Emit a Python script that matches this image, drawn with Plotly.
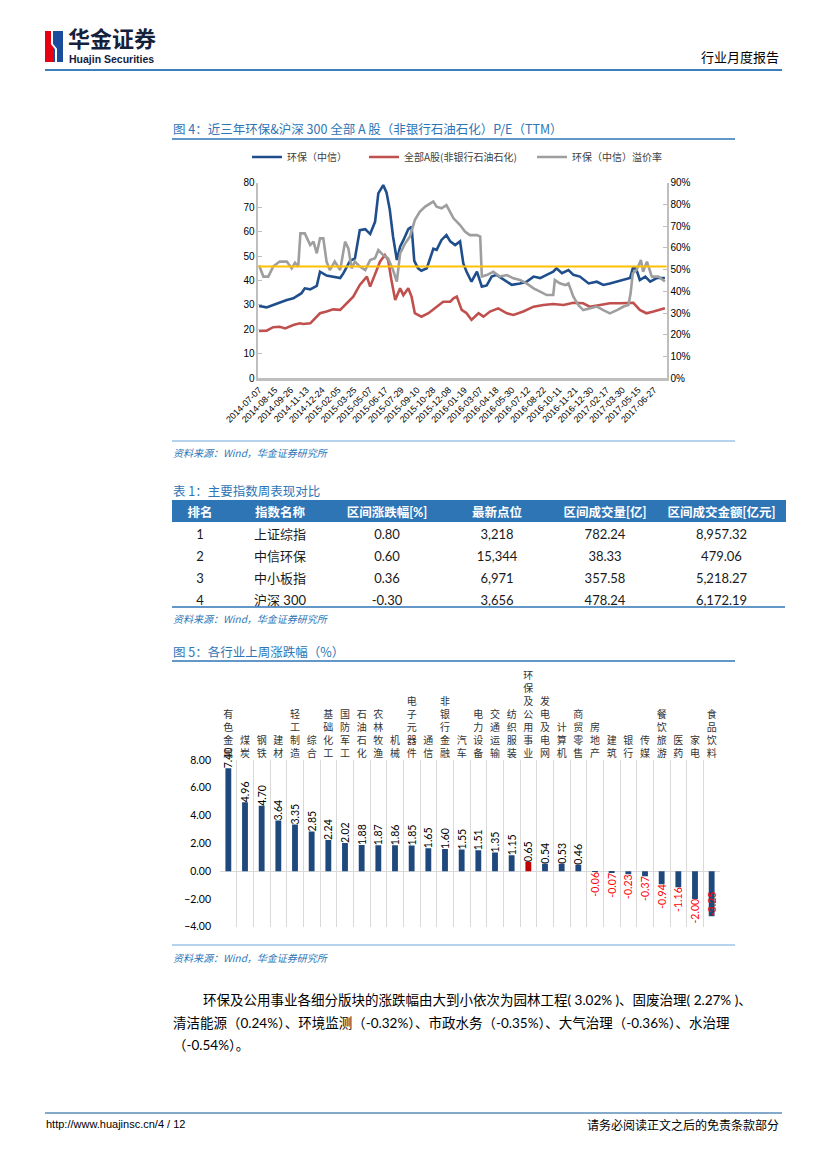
import plotly.graph_objects as go

# page is drawn 8px in from the top-left corner of the window (body margin)
OX, OY = 8, 8
W, H = 819, 1161
def px(x): return (x - OX) / W
def py(y): return 1 - (y - OY) / H

CJK = "Noto Sans CJK SC"
ARIAL = "Liberation Sans, Noto Sans CJK SC"
CAL = "Lato, Noto Sans CJK SC"

# ---------------- Figure 4 data (trading-day index, values) ----------------
date_ticks = ['2014-07-07', '2014-08-15', '2014-09-26', '2014-11-13', '2014-12-24',
              '2015-02-05', '2015-03-25', '2015-05-07', '2015-06-17', '2015-07-29',
              '2015-09-10', '2015-10-28', '2015-12-08', '2016-01-19', '2016-03-07',
              '2016-04-18', '2016-05-30', '2016-07-12', '2016-08-22', '2016-10-11',
              '2016-11-21', '2016-12-30', '2017-02-17', '2017-03-30', '2017-05-15',
              '2017-06-27']
tick_days = [0, 29, 58, 87, 116, 145, 174, 203, 232, 261, 290, 319, 348, 377, 406,
             435, 464, 493, 522, 551, 580, 609, 638, 667, 696, 725]

hb_day = [0, 14, 26, 38, 51, 63, 78, 84, 94, 106, 112, 124, 136, 149, 155, 167, 176, 185,
          195, 204, 213, 219, 228, 234, 240, 246, 253, 259, 265, 274, 280, 285, 292, 298,
          308, 314, 320, 326, 335, 344, 351, 360, 369, 375, 381, 390, 400, 409, 418, 427,
          436, 445, 455, 464, 479, 491, 504, 516, 528, 540, 546, 556, 568, 577, 589, 605,
          620, 632, 644, 657, 669, 681, 687, 693, 699, 709, 718, 730, 745]
hb_pe = [29.6, 29.0, 30.0, 31.0, 32.0, 32.7, 34.8, 36.8, 36.4, 37.8, 43.6, 42.0, 41.5, 41.0,
         43.0, 48.0, 49.0, 60.6, 61.0, 59.0, 64.0, 75.6, 79.0, 76.0, 69.0, 58.0, 48.4, 53.8,
         56.5, 61.0, 62.0, 48.0, 45.0, 44.0, 45.0, 49.0, 53.0, 52.5, 56.6, 58.6, 56.0, 54.5,
         56.0, 47.0, 43.6, 39.5, 43.6, 37.5, 38.0, 41.6, 42.3, 41.0, 39.5, 38.2, 38.8, 39.5,
         41.6, 41.0, 42.3, 43.6, 45.0, 43.0, 44.3, 42.3, 41.6, 38.8, 39.5, 38.2, 38.8, 39.5,
         40.2, 41.0, 45.7, 44.3, 40.2, 41.6, 39.5, 41.0, 41.0]

a_day = [0, 14, 26, 38, 48, 63, 75, 81, 94, 100, 112, 124, 136, 149, 161, 173, 185, 198,
         204, 213, 222, 231, 237, 243, 250, 259, 265, 274, 280, 286, 298, 311, 326, 338,
         351, 357, 363, 372, 381, 390, 403, 412, 424, 439, 455, 467, 485, 504, 522, 540,
         559, 577, 595, 607, 626, 644, 663, 687, 699, 711, 724, 745]
a_pe = [19.4, 19.5, 20.9, 21.1, 20.4, 21.8, 22.5, 22.2, 22.5, 23.9, 26.6, 27.3, 28.2, 28.0,
        30.7, 33.4, 38.2, 41.6, 37.5, 43.0, 47.7, 50.4, 48.4, 40.2, 32.0, 36.8, 34.0, 36.8,
        33.4, 26.6, 25.2, 26.6, 29.3, 31.3, 31.3, 32.7, 33.4, 28.0, 26.6, 23.9, 26.6, 25.2,
        27.3, 28.6, 26.6, 25.9, 27.3, 29.3, 30.0, 30.4, 30.0, 30.9, 30.7, 29.3, 30.0, 30.7,
        30.7, 30.9, 28.0, 26.6, 27.3, 28.6]

prem_day = [0, 8, 17, 26, 38, 51, 60, 66, 72, 76, 84, 94, 100, 106, 112, 118, 124, 130, 139,
            149, 158, 164, 170, 176, 185, 195, 204, 213, 219, 228, 237, 246, 253, 259, 268,
            277, 286, 295, 305, 314, 320, 326, 335, 344, 357, 369, 378, 387, 400, 406, 409,
            418, 430, 442, 455, 467, 479, 491, 504, 516, 528, 540, 543, 552, 562, 568, 577,
            586, 595, 608, 620, 632, 644, 657, 669, 678, 682, 686, 693, 701, 705, 712, 721,
            733, 745]
prem_pct = [52.0, 46.8, 46.8, 51.4, 53.7, 53.7, 50.6, 53.2, 51.4, 66.7, 66.7, 61.3, 62.9,
            57.5, 64.4, 64.4, 53.7, 49.8, 53.7, 49.8, 62.9, 59.8, 50.6, 53.7, 51.4, 49.8,
            54.4, 55.2, 59.0, 56.7, 55.2, 49.8, 44.5, 57.5, 62.0, 65.2, 72.8, 76.6, 79.0,
            80.5, 81.3, 79.0, 78.2, 79.7, 73.6, 70.5, 67.5, 65.9, 65.9, 65.2, 46.8, 47.5,
            49.0, 46.8, 47.5, 46.0, 45.2, 43.7, 41.4, 39.9, 38.3, 38.3, 45.2, 43.7, 42.9,
            43.7, 37.6, 33.7, 31.4, 32.2, 33.0, 31.4, 29.9, 31.4, 33.0, 33.7, 39.0, 48.3,
            49.8, 54.4, 49.0, 53.7, 46.8, 46.8, 44.5]
prem_avg = 51.4

# ---------------- Table 1 data ----------------
tbl_header = ['排名', '指数名称', '区间涨跌幅[%]', '最新点位', '区间成交量[亿]', '区间成交金额[亿元]']
tbl_rank = ['1', '2', '3', '4']
tbl_name = ['上证综指', '中信环保', '中小板指', '沪深 300']
tbl_chg = ['0.80', '0.60', '0.36', '-0.30']
tbl_last = ['3,218', '15,344', '6,971', '3,656']
tbl_vol = ['782.24', '38.33', '357.58', '478.24']
tbl_amt = ['8,957.32', '479.06', '5,218.27', '6,172.19']

# ---------------- Figure 5 data ----------------
industries = ['有色金属', '煤炭', '钢铁', '建材', '轻工制造', '综合', '基础化工', '国防军工',
              '石油石化', '农林牧渔', '机械', '电子元器件', '通信', '非银行金融', '汽车',
              '电力设备', '交通运输', '纺织服装', '环保及公用事业', '发电及电网', '计算机',
              '商贸零售', '房地产', '建筑', '银行', '传媒', '餐饮旅游', '医药', '家电', '食品饮料']
changes = [7.40, 4.96, 4.70, 3.64, 3.35, 2.85, 2.24, 2.02, 1.88, 1.87, 1.86, 1.85, 1.65,
           1.60, 1.55, 1.51, 1.35, 1.15, 0.65, 0.54, 0.53, 0.46, -0.06, -0.07, -0.23,
           -0.37, -0.94, -1.16, -2.00, -3.25]
highlight = '环保及公用事业'

fig = go.Figure()

# ---- Figure 4 traces ----
fig.add_trace(go.Scatter(x=hb_day, y=hb_pe, mode='lines', name='环保（中信）',
                         line=dict(color='#1F4E8C', width=2.6), xaxis='x', yaxis='y',
                         legend='legend'))
fig.add_trace(go.Scatter(x=a_day, y=a_pe, mode='lines', name='全部A股(非银行石油石化)',
                         line=dict(color='#C0504D', width=2.6), xaxis='x', yaxis='y',
                         legend='legend2'))
fig.add_trace(go.Scatter(x=prem_day, y=prem_pct, mode='lines', name='环保（中信）溢价率',
                         line=dict(color='#9E9E9E', width=2.6), xaxis='x', yaxis='y2',
                         legend='legend3'))
fig.add_trace(go.Scatter(x=[prem_day[0] - 2, prem_day[-1] + 4], y=[prem_avg, prem_avg],
                         mode='lines', showlegend=False,
                         line=dict(color='#FFC000', width=2), xaxis='x', yaxis='y2'))

# ---- Figure 5 bars ----
bar_colors = ['#C00000' if n == highlight else '#1F497D' for n in industries]
txt_colors = ['#000000' if v >= 0 else '#FF0000' for v in changes]
txt_pos = ['inside' if v < -3 else 'outside' for v in changes]
fig.add_trace(go.Bar(x=industries, y=changes, marker=dict(color=bar_colors, line=dict(width=0)),
                     text=[f'{v:.2f}' for v in changes], textposition=txt_pos,
                     insidetextanchor='end',
                     textangle=-90, constraintext='none', cliponaxis=False,
                     textfont=dict(family=CAL, size=10.5, color=txt_colors),
                     showlegend=False, xaxis='x2', yaxis='y3'))

# ---- Table 1 ----
fig.add_trace(go.Table(
    domain=dict(x=[px(172), px(785)], y=[py(660), py(500)]),
    columnwidth=[56, 104, 110, 110, 106, 127],
    header=dict(values=tbl_header, fill_color='#2E75B6',
                line=dict(color='#2E75B6', width=1), align='center', height=21,
                font=dict(family=CAL, size=12.5, color='white', weight='bold')),
    cells=dict(values=[tbl_rank, tbl_name, tbl_chg, tbl_last, tbl_vol, tbl_amt],
               fill_color='white', line=dict(color='white', width=1), align='center',
               height=22, font=dict(family=CAL, size=13, color='#1a1a1a'))))

axis_grey = '#BFBFBF'
legend_common = dict(orientation='h', xanchor='left', yanchor='middle',
                     font=dict(family=CJK, size=10, color='#404040'),
                     bgcolor='rgba(0,0,0,0)', borderwidth=0, itemwidth=30)

fig.update_layout(
    width=W, height=H, autosize=False,
    margin=dict(l=0, r=0, t=0, b=0, autoexpand=False),
    paper_bgcolor='white', plot_bgcolor='rgba(0,0,0,0)',
    font=dict(family=CJK, color='#000000'),
    legend=dict(x=px(247), y=py(157), **legend_common),
    legend2=dict(x=px(364), y=py(157), **legend_common),
    legend3=dict(x=px(532), y=py(157), **legend_common),
    xaxis=dict(domain=[px(258.3), px(666.7)], range=[-1.3, 748.3], anchor='y',
               automargin=False,
               tickmode='array', tickvals=tick_days, ticktext=date_ticks, tickangle=-45,
               tickfont=dict(family=ARIAL, size=9, color='#000000'),
               showline=True, linecolor=axis_grey, linewidth=3, showgrid=False,
               zeroline=False, ticks=''),
    yaxis=dict(domain=[py(378.3), py(182.7)], range=[0, 80], dtick=10, anchor='x',
               automargin=False,
               showline=True, linecolor=axis_grey, linewidth=1.5, ticks='inside',
               ticklen=4, tickcolor=axis_grey, showgrid=False, zeroline=False,
               tickfont=dict(family=ARIAL, size=10, color='#000000')),
    yaxis2=dict(range=[0, 90], dtick=10, ticksuffix='%', overlaying='y', side='right',
                anchor='x', automargin=False, showline=True, linecolor=axis_grey,
                linewidth=1.5, ticks='inside', ticklen=4, tickcolor=axis_grey,
                showgrid=False, zeroline=False,
                tickfont=dict(family=ARIAL, size=10, color='#000000')),
    xaxis2=dict(domain=[px(220), px(720)], anchor='y3', side='top', type='category',
                automargin=False,
                tickmode='array', tickvals=industries,
                ticktext=['<br>'.join(list(n)) for n in industries],
                tickson='boundaries', showgrid=True, gridcolor='#D9D9D9', gridwidth=1,
                ticks='', tickangle=0, showline=False, zeroline=False,
                tickfont=dict(family=CJK, size=10, color='#333333')),
    yaxis3=dict(domain=[py(926.7), py(760)], range=[-4, 8], dtick=2, tickformat='.2f',
                anchor='x2', automargin=False, showgrid=False, zeroline=True,
                zerolinecolor='#D9D9D9', zerolinewidth=1, showline=False, ticks='',
                ticklabelstandoff=8,
                tickfont=dict(family=CAL, size=10.5, color='#000000')),
    bargap=0.65,
)

shapes = []
def hline(y, x0, x1, color, width):
    shapes.append(dict(type='line', xref='paper', yref='paper', x0=px(x0), x1=px(x1),
                       y0=py(y), y1=py(y), line=dict(color=color, width=width)))

hline(70, 45, 782, '#3D7EBF', 2)
hline(139, 172, 735, '#2E75B6', 1.5)
hline(441, 172, 735, '#6FA8DC', 1.2)
hline(607, 172, 785, '#2E75B6', 1.5)
hline(661, 172, 735, '#2E75B6', 1.5)
hline(945, 172, 735, '#6FA8DC', 1.2)
hline(1113, 45, 782, '#5B8DB8', 1.5)

# logo
shapes.append(dict(type='rect', xref='paper', yref='paper', x0=px(45), x1=px(54),
                   y0=py(62), y1=py(31), fillcolor='#E60012', line=dict(width=0)))
shapes.append(dict(type='rect', xref='paper', yref='paper', x0=px(54), x1=px(63),
                   y0=py(62), y1=py(31), fillcolor='#1B4C9C', line=dict(width=0)))
shapes.append(dict(type='path', xref='paper', yref='paper',
                   path=f'M {px(52)},{py(31)} L {px(52)},{py(44)} L {px(56)},{py(49)} L {px(56)},{py(62)}',
                   line=dict(color='white', width=2)))
fig.update_layout(shapes=shapes)

ann = []
def text(x, y, s, size, color='#000000', anchor='left', family=CJK, **kw):
    ann.append(dict(xref='paper', yref='paper', x=px(x), y=py(y), text=s, showarrow=False,
                    xanchor=anchor, yanchor='middle', font=dict(family=family, size=size,
                                                                color=color), **kw))

text(66, 37, '<b>华金证券</b>', 22, '#14213D')
text(67, 59, '<b>Huajin Securities</b>', 10.5, '#14213D', family=ARIAL)
text(781, 57, '行业月度报告', 13, '#000000', anchor='right')

title_blue = '#2E75B6'
text(171, 128, '图 4：近三年环保&沪深 300 全部 A 股（非银行石油石化）P/E（TTM）', 12.5, title_blue)
text(171, 452, '<i>资料来源：Wind，华金证券研究所</i>', 10, title_blue)
text(171, 490, '表 1：主要指数周表现对比', 12.5, title_blue)
text(171, 618, '<i>资料来源：Wind，华金证券研究所</i>', 10, title_blue)
text(171, 651, '图 5：各行业上周涨跌幅（%）', 12.5, title_blue)
text(171, 957, '<i>资料来源：Wind，华金证券研究所</i>', 10, title_blue)

text(201, 1000, '环保及公用事业各细分版块的涨跌幅由大到小依次为园林工程( 3.02% )、固废治理( 2.27% )、',
     13.5, '#000000', family=CAL)
text(171, 1023, '清洁能源（0.24%）、环境监测（-0.32%）、市政水务（-0.35%）、大气治理（-0.36%）、水治理',
     13.5, '#000000', family=CAL)
text(171, 1045, '（-0.54%）。', 13.5, '#000000', family=CAL)

text(44, 1124, 'http://www.huajinsc.cn/4 / 12', 11, '#000000', family=ARIAL)
text(781, 1124, '请务必阅读正文之后的免责条款部分', 12, '#000000', anchor='right')

fig.update_layout(annotations=ann)
fig.write_html('out.html')
